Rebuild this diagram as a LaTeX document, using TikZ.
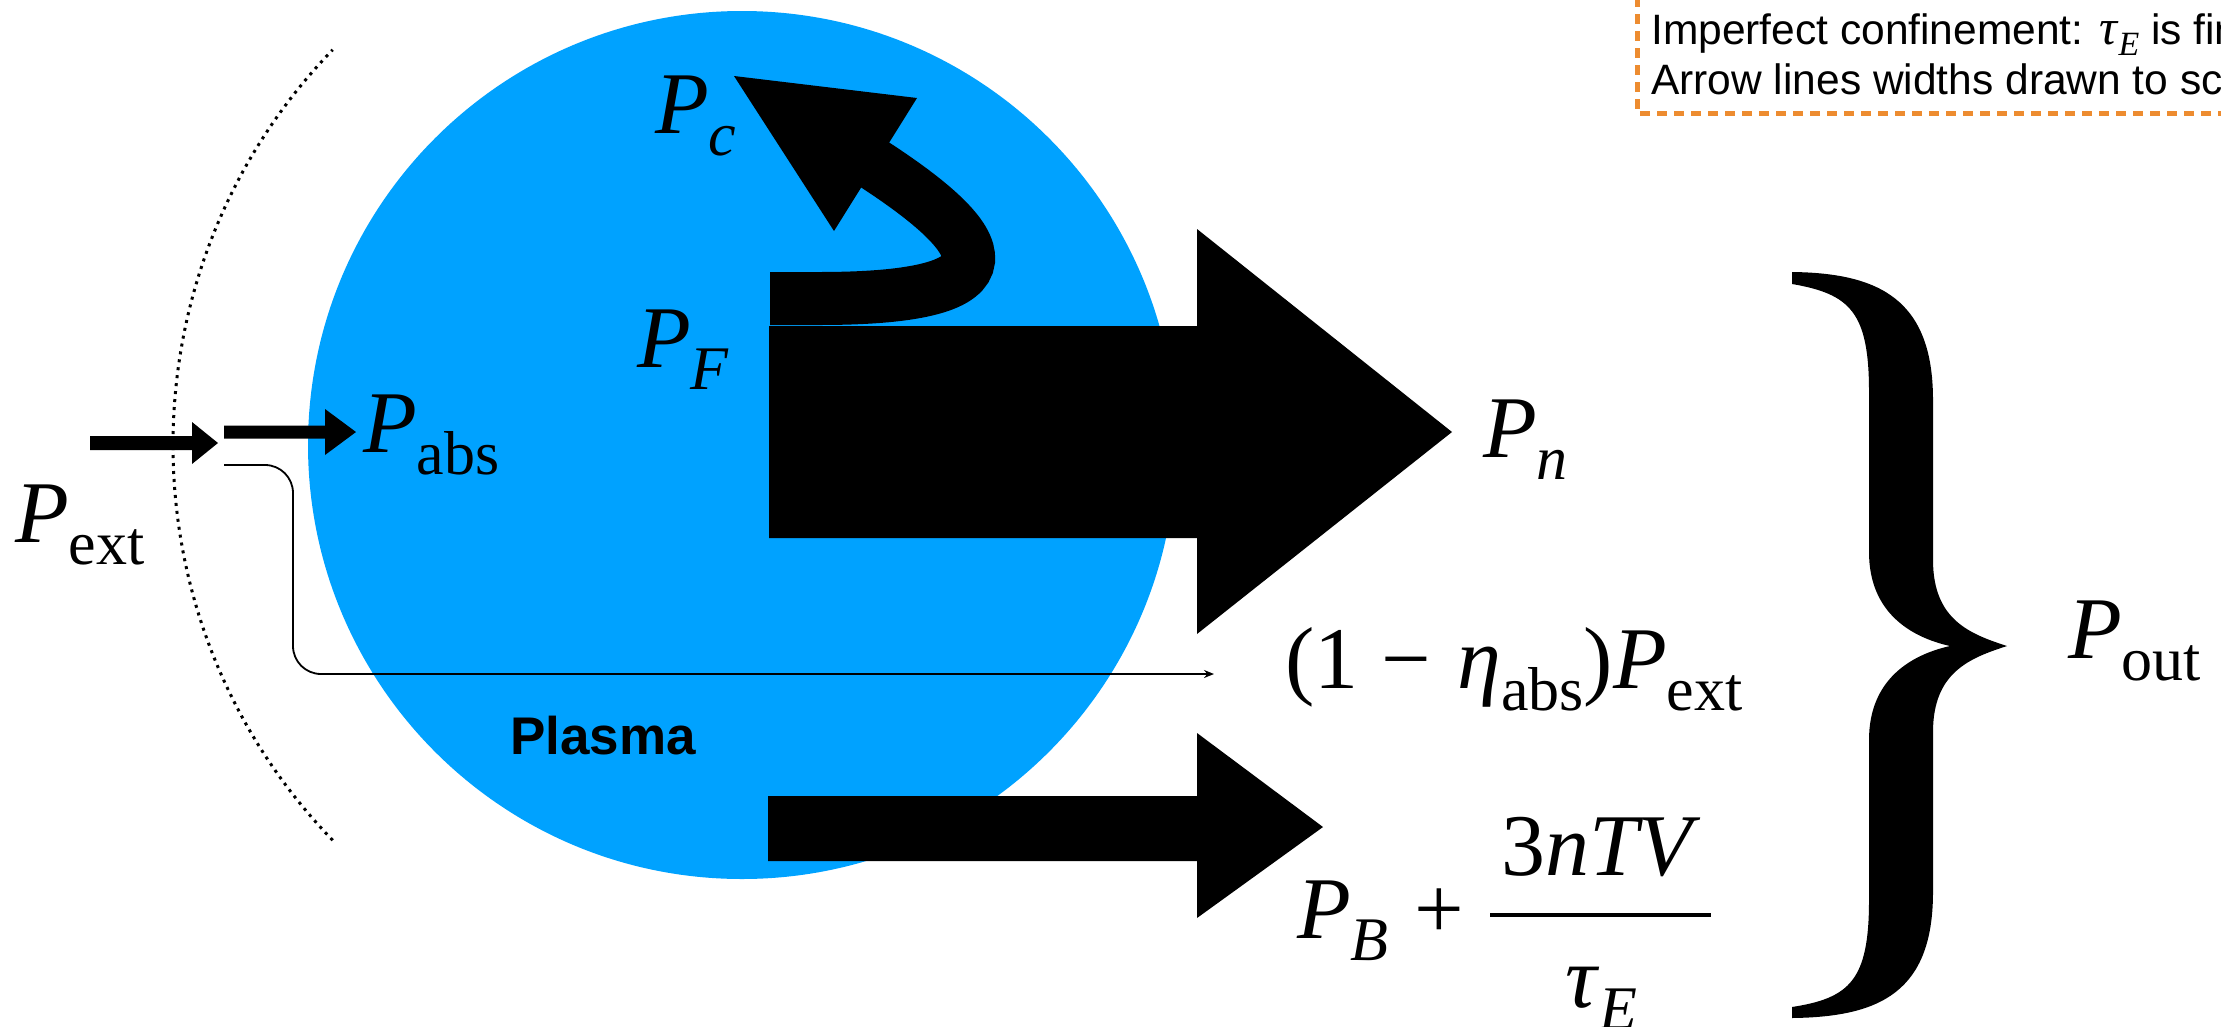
\documentclass[tikz,border=0pt]{standalone}
\usepackage{fontspec}
\setmainfont{Liberation Serif}
\setsansfont{Liberation Sans}
\usetikzlibrary{arrows.meta}
\definecolor{plasma}{RGB}{0,162,255}
\definecolor{boxorange}{RGB}{237,140,48}
\newcommand{\sbx}[1]{\raisebox{-0.25em}{\fontsize{62}{62}\selectfont #1}}
\newcommand{\sbs}[1]{\raisebox{-0.22em}{\fontsize{34}{34}\selectfont #1}}
\newcommand{\itP}{\textit{P}}
\begin{document}
\begin{tikzpicture}[x=1pt,y=-1pt,
  mathlbl/.style={inner sep=0pt, anchor=base west, font=\rmfamily\fontsize{88}{100}\selectfont},
  blockarrow/.style={fill=black, draw=none},
  notetext/.style={inner sep=0pt, anchor=base west, font=\sffamily\fontsize{42.5}{50}\selectfont},
  thinflow/.style={line width=1.8pt, rounded corners=28pt, -{Stealth[length=10pt,width=8pt]}}]
\useasboundingbox (0,0) rectangle (2221,1026);
\clip (0,0) rectangle (2221,1026);
\fill[white] (0,0) rectangle (2221,1026);
% plasma
\fill[plasma] (742,445) circle[radius=434];
\node[inner sep=0pt, anchor=base west, font=\sffamily\bfseries\fontsize{53}{60}\selectfont] (plasmalbl) at (510,754) {Plasma};
% dotted boundary
\draw[line width=3pt, dash pattern=on 3pt off 5pt, line cap=butt]
  ([shift={(136:569)}]742,445) arc[start angle=136, end angle=224, radius=569];
% external power arrow
\fill[blockarrow] (90,436) -- (192,436) -- (192,422) -- (218,443) -- (192,464) -- (192,450) -- (90,450) -- cycle;
\coordinate (split) at (224,465);
% absorbed power arrow
\fill[blockarrow] (224,425.5) -- (325,425.5) -- (325,409) -- (356,432) -- (325,455) -- (325,438.5) -- (224,438.5) -- cycle;
% unabsorbed thin line
\coordinate (unabsEnd) at (1214,674);
\draw[thinflow] (split) -- (293,465) -- (293,674) -- (unabsEnd);
% fusion power big arrow
\fill[blockarrow] (769,326) -- (1197,326) -- (1197,229) -- (1452,432) -- (1197,634) -- (1197,538) -- (769,538) -- cycle;
% Pc curved arrow
\draw[line width=53pt, line cap=butt] (770,298.5) -- (819,298.5) .. controls (1025,298.5) and (995,242) .. (869,161);
\fill[blockarrow] (734,76) -- (917,98) -- (834,231) -- cycle;
% bremsstrahlung + conduction arrow
\fill[blockarrow] (768,796) -- (1197,796) -- (1197,733) -- (1323,827) -- (1197,918) -- (1197,861) -- (768,861) -- cycle;
% brace
\fill[black] (1792,272) .. controls (1880,273) and (1933,300) .. (1933,400)
  -- (1933,560) .. controls (1933,620) and (1970,634) .. (2007,646)
  .. controls (1970,658) and (1933,672) .. (1933,732)
  -- (1933,892) .. controls (1933,992) and (1880,1017) .. (1792,1018)
  -- (1792,1007) .. controls (1850,998) and (1869,980) .. (1869,900)
  -- (1869,740) .. controls (1869,680) and (1910,655) .. (1950,646)
  .. controls (1910,637) and (1869,612) .. (1869,552)
  -- (1869,392) .. controls (1869,312) and (1850,294) .. (1792,284) -- cycle;
% labels
\node[mathlbl] (pext) at (15,542) {\itP\sbx{ext}};
\node[mathlbl] (pabs) at (363,452) {\itP\sbx{abs}};
\node[mathlbl] (pc) at (655,133) {\itP\sbx{\textit{c}}};
\node[mathlbl] (pf) at (637,367) {\itP\sbx{\textit{F}}};
\node[mathlbl] (pn) at (1483,457) {\itP\sbx{\textit{n}}};
\node[mathlbl] (punabs) at (1285,688) {(1\hspace{0.26em}−\hspace{0.3em}\textit{η}\/\sbx{abs})\itP\sbx{ext}};
\node[mathlbl] (pb) at (1297,938) {\itP\sbx{\textit{B}}};
\node[mathlbl, anchor=base] (plus) at (1439,938) {+};
\node[mathlbl, anchor=base] (num) at (1601,875) {3\textit{nTV}};
\node[mathlbl, anchor=base] (den) at (1601,1007) {\textit{τ}\sbx{\textit{E}}};
\draw[line width=4pt] (1490,915) -- (1711,915);
\node[mathlbl] (pout) at (2068,658) {\itP\sbx{out}};
% note box
\draw[boxorange, line width=5pt, dash pattern=on 10pt off 7pt] (1637,-20) -- (1637,113) -- (2260,113);
\node[notetext] (note1) at (1651,44) {Imperfect confinement: {\rmfamily\fontsize{50}{50}\selectfont\textit{τ}\sbs{\textit{E}}} is finite};
\node[notetext] (note2) at (1651,94) {Arrow lines widths drawn to scale};
\end{tikzpicture}
\end{document}
